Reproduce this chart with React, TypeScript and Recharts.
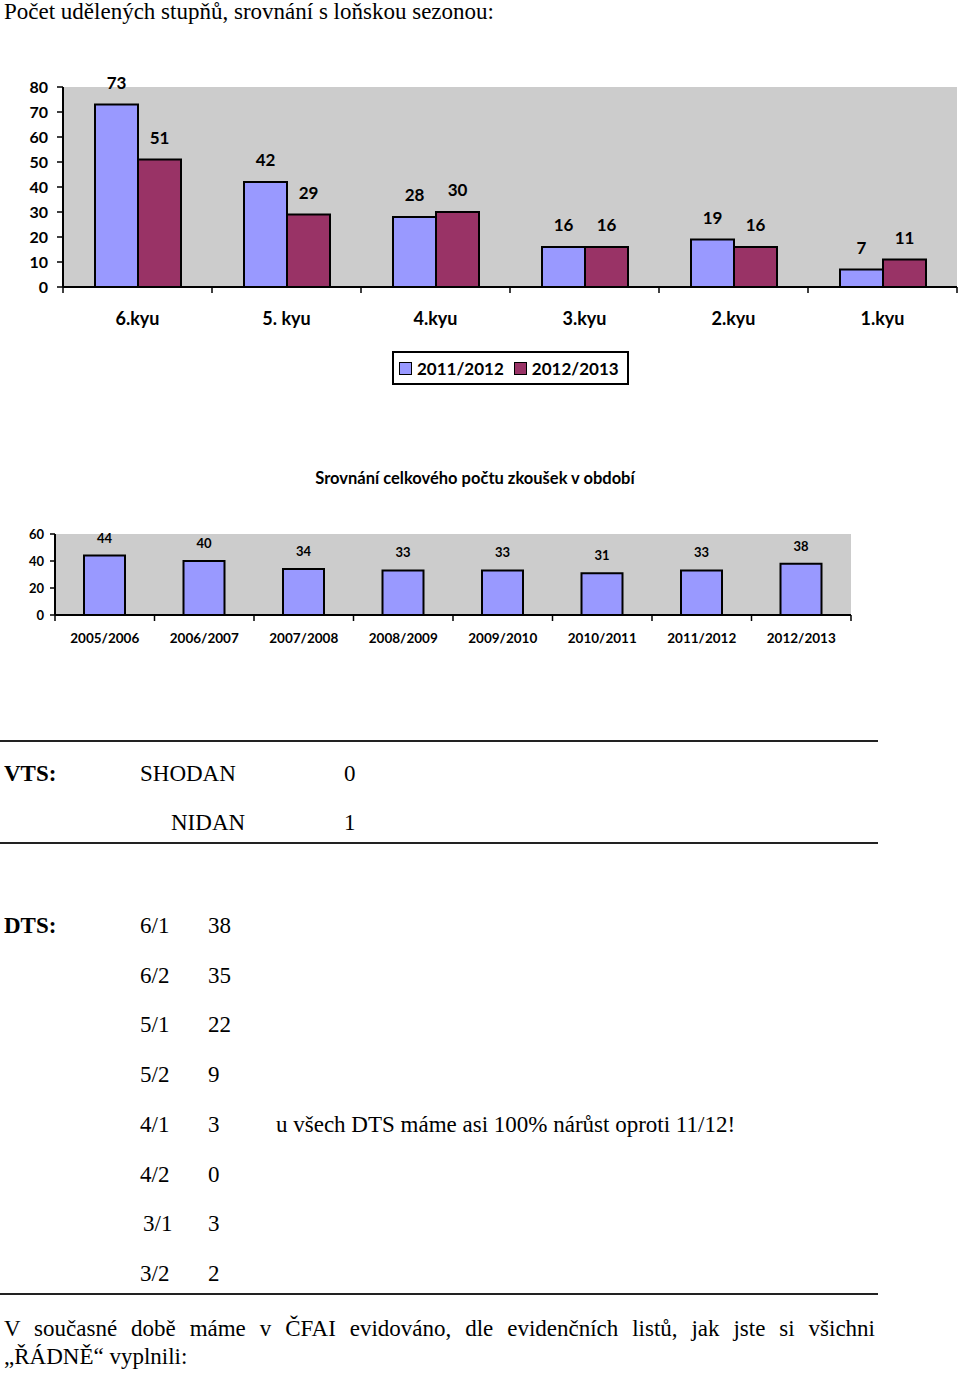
import React from "react";
import {
  BarChart,
  Bar,
  XAxis,
  YAxis,
  CartesianGrid,
  Legend,
  LabelList,
} from "recharts";

// chart 1: grades awarded, this season vs last
const kyuLabels = ["6.kyu", "5. kyu", "4.kyu", "3.kyu", "2.kyu", "1.kyu"];
const season1112 = [73, 42, 28, 16, 19, 7];
const season1213 = [51, 29, 30, 16, 16, 11];
const kyuTicks = [0, 10, 20, 30, 40, 50, 60, 70, 80];

// chart 2: exams per season
const periodLabels = [
  "2005/2006",
  "2006/2007",
  "2007/2008",
  "2008/2009",
  "2009/2010",
  "2010/2011",
  "2011/2012",
  "2012/2013",
];
const examCounts = [44, 40, 34, 33, 33, 31, 33, 38];
const examTicks = [0, 20, 40, 60];

const BLUE = "#9999ff";
const RED = "#993366";
const PLOT_BG = "#cccccc";
const SANS = "Lato, 'Open Sans', sans-serif";
const SERIF = "'Liberation Serif', 'Times New Roman', serif";

const kyuData = kyuLabels.map((kyu, i) => ({
  kyu,
  a: season1112[i],
  b: season1213[i],
}));
const examData = periodLabels.map((period, i) => ({
  period,
  n: examCounts[i],
}));

// x tick: label under the band, tick marks on band edges (Excel style)
function BandTick(props: any) {
  const { x, y, payload, index, half, count, fontSize, dy } = props;
  return (
    <g>
      <line x1={x - half} x2={x - half} y1={y} y2={y + 6} stroke="#000" strokeWidth={1.5} />
      {index === count - 1 && (
        <line x1={x + half} x2={x + half} y1={y} y2={y + 6} stroke="#000" strokeWidth={1.5} />
      )}
      <text
        x={x}
        y={y + dy}
        textAnchor="middle"
        dominantBaseline="central"
        fontFamily={SANS}
        fontWeight={700}
        fontSize={fontSize}
        fill="#000"
      >
        {payload.value}
      </text>
    </g>
  );
}

function LegendBox() {
  const item = (color: string, label: string) => (
    <span style={{ display: "inline-flex", alignItems: "center" }}>
      <span
        style={{
          width: 11,
          height: 11,
          background: color,
          border: "1px solid #000",
          marginRight: 5,
        }}
      />
      {label}
    </span>
  );
  return (
    <div
      style={{
        width: 237,
        height: 34,
        boxSizing: "border-box",
        border: "2px solid #000",
        background: "#fff",
        display: "flex",
        alignItems: "center",
        paddingLeft: 5,
        gap: 10,
        fontFamily: SANS,
        fontWeight: 700,
        fontSize: 17,
        color: "#000",
      }}
    >
      {item(BLUE, "2011/2012")}
      {item(RED, "2012/2013")}
    </div>
  );
}

function T({
  x,
  y,
  size = 23,
  bold = false,
  children,
}: {
  x: number;
  y: number;
  size?: number;
  bold?: boolean;
  children: React.ReactNode;
}) {
  return (
    <div
      style={{
        position: "absolute",
        left: x,
        top: y - size * 0.71,
        fontFamily: SERIF,
        fontSize: size,
        lineHeight: 1.4,
        fontWeight: bold ? 700 : 400,
        whiteSpace: "nowrap",
        color: "#000",
      }}
    >
      {children}
    </div>
  );
}

function Rule({ y }: { y: number }) {
  return (
    <div
      style={{
        position: "absolute",
        left: 0,
        top: y,
        width: 878,
        height: 1.5,
        background: "#222",
      }}
    />
  );
}

const dtsRows = ["6/1", "6/2", "5/1", "5/2", "4/1", "4/2", "3/1", "3/2"];
const dtsCounts = [38, 35, 22, 9, 3, 0, 3, 2];
const dtsRowY = [926, 976, 1025, 1075, 1125, 1175, 1224, 1274];

export default function App() {
  const chart1W = 960;
  const plot1W = chart1W - 63 - 3;
  const half1 = plot1W / kyuLabels.length / 2;
  const plot2W = 960 - 55 - 109;
  const half2 = plot2W / periodLabels.length / 2;

  return (
    <div
      style={{
        position: "absolute",
        left: 0,
        top: 0,
        width: 960,
        height: 1374,
        background: "#fff",
        overflow: "hidden",
      }}
    >
      <T x={4} y={12} size={23}>
        Počet udělených stupňů, srovnání s loňskou sezonou:
      </T>

      <div style={{ position: "absolute", left: 0, top: 60 }}>
        <BarChart
          width={chart1W}
          height={340}
          data={kyuData}
          margin={{ top: 27, right: 3, bottom: 0, left: 0 }}
          barGap={0}
        >
          <CartesianGrid horizontal={false} vertical={false} fill={PLOT_BG} fillOpacity={1} />
          <XAxis
            xAxisId="top"
            orientation="top"
            dataKey="kyu"
            height={0}
            tick={false}
            tickLine={false}
            axisLine={{ stroke: "#808080", strokeWidth: 2 }}
          />
          <YAxis
            yAxisId="right"
            orientation="right"
            width={0}
            tick={false}
            tickLine={false}
            axisLine={{ stroke: "#808080", strokeWidth: 2 }}
          />
          <XAxis
            dataKey="kyu"
            height={113}
            tickSize={0}
            tickMargin={0}
            tickLine={false}
            axisLine={{ stroke: "#000", strokeWidth: 2 }}
            interval={0}
            tick={<BandTick half={half1} count={kyuLabels.length} fontSize={18} dy={31} />}
          />
          <YAxis
            width={63}
            domain={[0, 80]}
            ticks={kyuTicks}
            interval={0}
            tickSize={6}
            tickMargin={9}
            axisLine={{ stroke: "#000", strokeWidth: 2 }}
            tickLine={{ stroke: "#000", strokeWidth: 1.5 }}
            tick={{ fontFamily: SANS, fontWeight: 700, fontSize: 16, fill: "#000" }}
          />
          <Legend
            verticalAlign="middle"
            layout="horizontal"
            content={<LegendBox />}
            wrapperStyle={{ top: 291, left: 392, width: 237, height: 34 }}
          />
          <Bar dataKey="a" name="2011/2012" fill={BLUE} stroke="#000" strokeWidth={2} barSize={43} isAnimationActive={false}>
            <LabelList dataKey="a" position="top" offset={16} fill="#000" fontFamily={SANS} fontWeight={700} fontSize={17} />
          </Bar>
          <Bar dataKey="b" name="2012/2013" fill={RED} stroke="#000" strokeWidth={2} barSize={43} isAnimationActive={false}>
            <LabelList dataKey="b" position="top" offset={16} fill="#000" fontFamily={SANS} fontWeight={700} fontSize={17} />
          </Bar>
        </BarChart>
      </div>

      <div
        style={{
          position: "absolute",
          left: 0,
          width: 950,
          top: 468,
          textAlign: "center",
          fontFamily: SANS,
          fontWeight: 700,
          fontSize: 16.5,
          lineHeight: "20px",
          color: "#000",
        }}
      >
        Srovnání celkového počtu zkoušek v období
      </div>

      <div style={{ position: "absolute", left: 0, top: 520 }}>
        <BarChart
          width={960}
          height={140}
          data={examData}
          margin={{ top: 14, right: 109, bottom: 0, left: 0 }}
        >
          <CartesianGrid horizontal={false} vertical={false} fill={PLOT_BG} fillOpacity={1} />
          <XAxis
            xAxisId="top"
            orientation="top"
            dataKey="period"
            height={0}
            tick={false}
            tickLine={false}
            axisLine={{ stroke: "#808080", strokeWidth: 2 }}
          />
          <YAxis
            yAxisId="right"
            orientation="right"
            width={0}
            tick={false}
            tickLine={false}
            axisLine={{ stroke: "#808080", strokeWidth: 2 }}
          />
          <XAxis
            dataKey="period"
            height={45}
            tickSize={0}
            tickMargin={0}
            tickLine={false}
            axisLine={{ stroke: "#000", strokeWidth: 2 }}
            interval={0}
            tick={<BandTick half={half2} count={periodLabels.length} fontSize={13.5} dy={23} />}
          />
          <YAxis
            width={55}
            domain={[0, 60]}
            ticks={examTicks}
            interval={0}
            tickSize={5}
            tickMargin={6}
            axisLine={{ stroke: "#000", strokeWidth: 2 }}
            tickLine={{ stroke: "#000", strokeWidth: 1.5 }}
            tick={{ fontFamily: SANS, fontWeight: 700, fontSize: 13, fill: "#000" }}
          />
          <Bar dataKey="n" fill={BLUE} stroke="#000" strokeWidth={2} barSize={41} isAnimationActive={false}>
            <LabelList dataKey="n" position="top" offset={13} fill="#000" fontFamily={SANS} fontWeight={700} fontSize={13} />
          </Bar>
        </BarChart>
      </div>

      <Rule y={740} />
      <T x={4} y={774} bold>VTS:</T>
      <T x={140} y={774}>SHODAN</T>
      <T x={344} y={774}>0</T>
      <T x={171} y={823}>NIDAN</T>
      <T x={344} y={823}>1</T>
      <Rule y={842} />

      <T x={4} y={926} bold>DTS:</T>
      {dtsRows.map((r, i) => (
        <React.Fragment key={r}>
          <T x={r === "3/1" ? 143 : 140} y={dtsRowY[i]}>{r}</T>
          <T x={208} y={dtsRowY[i]}>{dtsCounts[i]}</T>
        </React.Fragment>
      ))}
      <T x={276} y={1125}>u všech DTS máme asi 100% nárůst oproti 11/12!</T>
      <Rule y={1293} />

      <div
        style={{
          position: "absolute",
          left: 4,
          top: 1314,
          width: 871,
          fontFamily: SERIF,
          fontSize: 23,
          lineHeight: "30px",
          textAlign: "justify",
          textAlignLast: "justify",
          color: "#000",
        }}
      >
        V současné době máme v ČFAI evidováno, dle evidenčních listů, jak jste si všichni
      </div>
      <T x={4} y={1357}>„ŘÁDNĚ“ vyplnili:</T>
    </div>
  );
}
